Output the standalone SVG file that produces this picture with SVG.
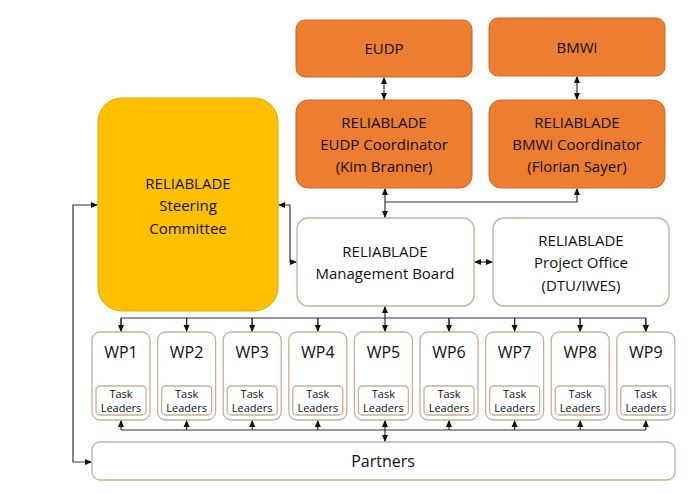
<svg xmlns="http://www.w3.org/2000/svg" width="700" height="494" viewBox="0 0 700 494">
<style>
text{font-family:"Open Sans","Liberation Sans",sans-serif;fill:#111;text-anchor:middle;dominant-baseline:central}
.t{font-size:15px}
.w{font-size:16px}
.s{font-size:11px}
.or{fill:#ED7D31;stroke:#C8682A;stroke-width:1}
.wh{fill:#fff;stroke:#C9AE98;stroke-width:1.3}
.c{fill:none;stroke:#333;stroke-width:1.2}
</style>
<defs>
<marker id="a" viewBox="0 0 8 8" refX="7" refY="4" markerWidth="6" markerHeight="6" orient="auto-start-reverse"><path d="M0,0.5 L8,4 L0,7.5z" fill="#111"/></marker>
</defs>
<rect width="700" height="494" fill="#fff"/>
<g id="eudp"><rect class="or" x="296" y="20" width="176" height="57" rx="9"/><text class="t" x="384" y="48">EUDP</text></g>
<g id="bmwi"><rect class="or" x="489" y="18" width="176" height="58" rx="9"/><text class="t" x="577" y="47">BMWi</text></g>
<g id="eudpc"><rect class="or" x="296" y="100" width="176" height="88" rx="12"/><text class="t" x="384" y="122">RELIABLADE</text><text class="t" x="384" y="144">EUDP Coordinator</text><text class="t" x="384" y="166">(Kim Branner)</text></g>
<g id="bmwic"><rect class="or" x="489" y="100" width="176" height="88" rx="12"/><text class="t" x="577" y="122">RELIABLADE</text><text class="t" x="577" y="144">BMWi Coordinator</text><text class="t" x="577" y="166">(Florian Sayer)</text></g>
<g id="steering"><rect x="98" y="98" width="180" height="213" rx="24" fill="#FFC000" stroke="#E0A800"/><text class="t" x="188" y="183">RELIABLADE</text><text class="t" x="188" y="205">Steering</text><text class="t" x="188" y="228">Committee</text></g>
<g id="mgmt"><rect class="wh" x="297" y="218" width="177" height="88" rx="11"/><text class="t" x="385" y="251">RELIABLADE</text><text class="t" x="385" y="273">Management Board</text></g>
<g id="po"><rect class="wh" x="493" y="218" width="176" height="88" rx="11"/><text class="t" x="581" y="240">RELIABLADE</text><text class="t" x="581" y="262">Project Office</text><text class="t" x="581" y="285">(DTU/IWES)</text></g>
<g id="wp1"><rect class="wh" x="92" y="332" width="58" height="88" rx="8"/><text class="w" x="121" y="352">WP1</text><rect class="wh" x="96" y="386" width="50" height="29" rx="4"/><text class="s" x="121" y="393">Task</text><text class="s" x="121" y="407">Leaders</text></g>
<g id="wp2"><rect class="wh" x="157.6" y="332" width="58" height="88" rx="8"/><text class="w" x="186.6" y="352">WP2</text><rect class="wh" x="161.6" y="386" width="50" height="29" rx="4"/><text class="s" x="186.6" y="393">Task</text><text class="s" x="186.6" y="407">Leaders</text></g>
<g id="wp3"><rect class="wh" x="223.2" y="332" width="58" height="88" rx="8"/><text class="w" x="252.2" y="352">WP3</text><rect class="wh" x="227.2" y="386" width="50" height="29" rx="4"/><text class="s" x="252.2" y="393">Task</text><text class="s" x="252.2" y="407">Leaders</text></g>
<g id="wp4"><rect class="wh" x="288.8" y="332" width="58" height="88" rx="8"/><text class="w" x="317.8" y="352">WP4</text><rect class="wh" x="292.8" y="386" width="50" height="29" rx="4"/><text class="s" x="317.8" y="393">Task</text><text class="s" x="317.8" y="407">Leaders</text></g>
<g id="wp5"><rect class="wh" x="354.4" y="332" width="58" height="88" rx="8"/><text class="w" x="383.4" y="352">WP5</text><rect class="wh" x="358.4" y="386" width="50" height="29" rx="4"/><text class="s" x="383.4" y="393">Task</text><text class="s" x="383.4" y="407">Leaders</text></g>
<g id="wp6"><rect class="wh" x="420" y="332" width="58" height="88" rx="8"/><text class="w" x="449" y="352">WP6</text><rect class="wh" x="424" y="386" width="50" height="29" rx="4"/><text class="s" x="449" y="393">Task</text><text class="s" x="449" y="407">Leaders</text></g>
<g id="wp7"><rect class="wh" x="485.6" y="332" width="58" height="88" rx="8"/><text class="w" x="514.6" y="352">WP7</text><rect class="wh" x="489.6" y="386" width="50" height="29" rx="4"/><text class="s" x="514.6" y="393">Task</text><text class="s" x="514.6" y="407">Leaders</text></g>
<g id="wp8"><rect class="wh" x="551.2" y="332" width="58" height="88" rx="8"/><text class="w" x="580.2" y="352">WP8</text><rect class="wh" x="555.2" y="386" width="50" height="29" rx="4"/><text class="s" x="580.2" y="393">Task</text><text class="s" x="580.2" y="407">Leaders</text></g>
<g id="wp9"><rect class="wh" x="616.8" y="332" width="58" height="88" rx="8"/><text class="w" x="645.8" y="352">WP9</text><rect class="wh" x="620.8" y="386" width="50" height="29" rx="4"/><text class="s" x="645.8" y="393">Task</text><text class="s" x="645.8" y="407">Leaders</text></g>
<g id="partners"><rect class="wh" x="92" y="442" width="583" height="38" rx="8"/><text class="w" x="383" y="461">Partners</text></g>
<g id="connectors">
<path class="c" d="M384,78 V99" marker-start="url(#a)" marker-end="url(#a)"/>
<path class="c" d="M577,77 V99" marker-start="url(#a)" marker-end="url(#a)"/>
<path class="c" d="M385,189 V217" marker-start="url(#a)" marker-end="url(#a)"/>
<path class="c" d="M385,202 H577 V189" marker-end="url(#a)"/>
<path class="c" d="M279,205 H290 V262 H296" marker-start="url(#a)" marker-end="url(#a)"/>
<path class="c" d="M475,262 H492" marker-start="url(#a)" marker-end="url(#a)"/>
<path class="c" d="M97,205 H73 V462 H91" marker-start="url(#a)" marker-end="url(#a)"/>
<path class="c" d="M385,307 V331" marker-start="url(#a)" marker-end="url(#a)"/>
<path class="c" d="M121,318 H646"/>
<path class="c" d="M121,318 V331 M186.6,318 V331 M252.2,318 V331 M317.8,318 V331 M449,318 V331 M514.6,318 V331 M580.2,318 V331 M645.8,318 V331" marker-end="url(#a)"/>
<path class="c" d="M121,318 V331" marker-end="url(#a)"/><path class="c" d="M186.6,318 V331" marker-end="url(#a)"/><path class="c" d="M252.2,318 V331" marker-end="url(#a)"/><path class="c" d="M317.8,318 V331" marker-end="url(#a)"/><path class="c" d="M449,318 V331" marker-end="url(#a)"/><path class="c" d="M514.6,318 V331" marker-end="url(#a)"/><path class="c" d="M580.2,318 V331" marker-end="url(#a)"/><path class="c" d="M645.8,318 V331" marker-end="url(#a)"/>
<path class="c" d="M121,430 H646"/>
<path class="c" d="M385,421 V441" marker-start="url(#a)" marker-end="url(#a)"/>
<path class="c" d="M121,430 V421" marker-end="url(#a)"/><path class="c" d="M186.6,430 V421" marker-end="url(#a)"/><path class="c" d="M252.2,430 V421" marker-end="url(#a)"/><path class="c" d="M317.8,430 V421" marker-end="url(#a)"/><path class="c" d="M449,430 V421" marker-end="url(#a)"/><path class="c" d="M514.6,430 V421" marker-end="url(#a)"/><path class="c" d="M580.2,430 V421" marker-end="url(#a)"/><path class="c" d="M645.8,430 V421" marker-end="url(#a)"/>
</g>
</svg>
